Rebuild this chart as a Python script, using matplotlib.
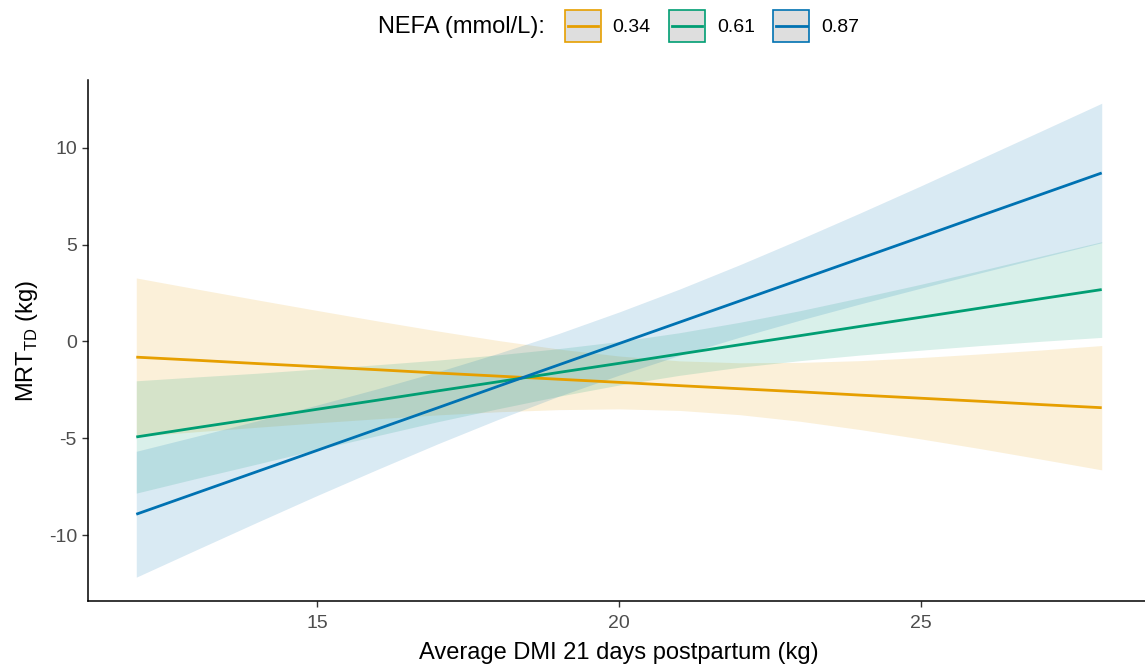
import matplotlib
matplotlib.use("Agg")
import matplotlib.pyplot as plt
from matplotlib.patches import Rectangle
from matplotlib.lines import Line2D
from matplotlib.legend_handler import HandlerBase

plt.rcParams['font.family'] = ['Liberation Sans', 'DejaVu Sans']
plt.rcParams['axes.unicode_minus'] = False

# ---- data ----
dmi = [12, 13, 14, 15, 16, 17, 18, 19, 20, 21, 22, 23, 24, 25, 26, 27, 28]
nefa_levels = ["0.34", "0.61", "0.87"]
colors = ["#E69F00", "#009E73", "#0072B2"]

fit_034 = [-0.81, -0.97, -1.14, -1.30, -1.46, -1.63, -1.79, -1.95, -2.11,
           -2.28, -2.44, -2.60, -2.77, -2.93, -3.09, -3.26, -3.42]
lo_034 = [-4.90, -4.66, -4.43, -4.20, -3.99, -3.79, -3.63, -3.52, -3.48,
          -3.56, -3.78, -4.12, -4.55, -5.03, -5.54, -6.08, -6.63]
hi_034 = [3.28, 2.71, 2.15, 1.60, 1.06, 0.54, 0.05, -0.39, -0.75,
          -1.00, -1.10, -1.08, -0.99, -0.83, -0.64, -0.44, -0.21]

fit_061 = [-4.93, -4.45, -3.98, -3.50, -3.03, -2.55, -2.08, -1.60, -1.13,
           -0.65, -0.17, 0.30, 0.78, 1.25, 1.73, 2.21, 2.68]
lo_061 = [-7.83, -7.07, -6.33, -5.58, -4.86, -4.14, -3.47, -2.83, -2.25,
          -1.75, -1.33, -0.99, -0.70, -0.45, -0.21, 0.01, 0.21]
hi_061 = [-2.03, -1.83, -1.64, -1.42, -1.20, -0.96, -0.69, -0.37, 0.00,
          0.45, 0.99, 1.59, 2.26, 2.95, 3.67, 4.41, 5.15]

fit_087 = [-8.92, -7.82, -6.72, -5.62, -4.52, -3.42, -2.31, -1.21, -0.11,
           0.99, 2.09, 3.19, 4.29, 5.39, 6.50, 7.60, 8.70]
lo_087 = [-12.17, -10.75, -9.34, -7.95, -6.60, -5.28, -4.02, -2.83, -1.74,
          -0.72, 0.22, 1.10, 1.94, 2.75, 3.55, 4.33, 5.10]
hi_087 = [-5.67, -4.89, -4.10, -3.28, -2.44, -1.56, -0.61, 0.41, 1.52,
          2.70, 3.96, 5.28, 6.64, 8.03, 9.45, 10.87, 12.30]

fits = [fit_034, fit_061, fit_087]
los = [lo_034, lo_061, lo_087]
his = [hi_034, hi_061, hi_087]

W, H = 1145, 670
fig = plt.figure(figsize=(W / 100, H / 100), dpi=100)
ax_left, ax_right, ax_top, ax_bot = 88, 1150, 80, 601
ax = fig.add_axes([ax_left / W, (H - ax_bot) / H, (ax_right - ax_left) / W, (ax_bot - ax_top) / H])

for lo, hi, c in zip(los, his, colors):
    ax.fill_between(dmi, lo, hi, color=c, alpha=0.15, linewidth=0)
handles = []
for f, c in zip(fits, colors):
    ln, = ax.plot(dmi, f, color=c, lw=2.0, solid_capstyle='butt')
    handles.append(ln)

ax.set_xlim(11.2, 28.8)
ax.set_ylim(-13.4, 13.5)
ax.set_xticks([15, 20, 25])
ax.set_yticks([-10, -5, 0, 5, 10])
for s in ['top', 'right']:
    ax.spines[s].set_visible(False)
for s in ['left', 'bottom']:
    ax.spines[s].set_color('black')
    ax.spines[s].set_linewidth(1.1)
ax.tick_params(axis='both', direction='out', length=4, width=1.0, color='#333333',
               labelcolor='#4D4D4D', labelsize=14)
ax.tick_params(axis='x', pad=6)
ax.tick_params(axis='y', pad=4)
ax.set_xlabel("Average DMI 21 days postpartum (kg)", fontsize=17, color='black', labelpad=7)
ax.set_ylabel(r"MRT$_{\mathregular{TD}}$ (kg)", fontsize=17, color='black', labelpad=6)


class BoxLineHandler(HandlerBase):
    def create_artists(self, legend, orig_handle, xdescent, ydescent, width, height, fontsize, trans):
        c = orig_handle.get_color()
        rect = Rectangle((-xdescent, -ydescent), width, height, facecolor='#DEDEDE',
                         edgecolor=c, lw=1.2, transform=trans)
        line = Line2D([-xdescent + 2, -xdescent + width - 2], [-ydescent + height / 2] * 2,
                      color=c, lw=2.0, transform=trans)
        return [rect, line]


fig.text(378 / W, 1 - 27 / H, "NEFA (mmol/L):", fontsize=17, ha='left', va='center')
leg = fig.legend(handles, nefa_levels, loc='center left', bbox_to_anchor=(565 / W, 1 - 26 / H),
                 ncol=3, frameon=False, fontsize=14, handlelength=1.85, handleheight=2.1,
                 handletextpad=0.6, columnspacing=0.95, borderpad=0, borderaxespad=0,
                 handler_map={Line2D: BoxLineHandler()})

fig.savefig("out.png", dpi=100)
